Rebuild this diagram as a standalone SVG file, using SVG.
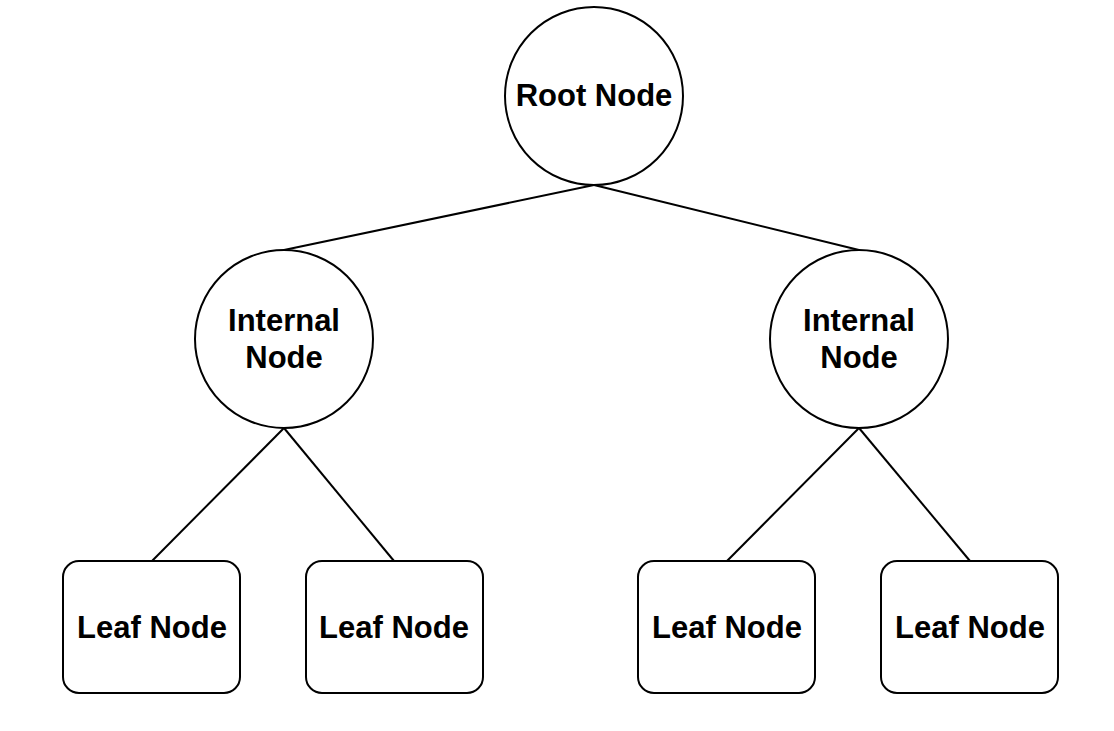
<svg xmlns="http://www.w3.org/2000/svg" width="1114" height="731" viewBox="0 0 1114 731">
<style>
.n{fill:#fff;stroke:#000;stroke-width:2}
.t{font-family:"Liberation Sans",Arial,sans-serif;font-weight:bold;font-size:31px;fill:#000;text-anchor:middle}
.c{stroke:#000;stroke-width:2;fill:none}
</style>
<rect width="1114" height="731" fill="#fff"/>
<g id="connectors">
<line class="c" x1="594" y1="185" x2="284" y2="250"/>
<line class="c" x1="594" y1="185" x2="859" y2="250"/>
<line class="c" x1="284" y1="428" x2="152" y2="561"/>
<line class="c" x1="284" y1="428" x2="394" y2="561"/>
<line class="c" x1="859" y1="428" x2="727" y2="561"/>
<line class="c" x1="859" y1="428" x2="970" y2="561"/>
</g>
<g id="root">
<circle class="n" cx="594" cy="96" r="89"/>
<text class="t" x="594" y="106">Root Node</text>
</g>
<g id="internal-left">
<circle class="n" cx="284" cy="339" r="89"/>
<text class="t" x="284" y="331">Internal</text>
<text class="t" x="284" y="368">Node</text>
</g>
<g id="internal-right">
<circle class="n" cx="859" cy="339" r="89"/>
<text class="t" x="859" y="331">Internal</text>
<text class="t" x="859" y="368">Node</text>
</g>
<g id="leaf-1">
<rect class="n" x="63" y="561" width="177" height="132" rx="16"/>
<text class="t" x="152" y="638">Leaf Node</text>
</g>
<g id="leaf-2">
<rect class="n" x="306" y="561" width="177" height="132" rx="16"/>
<text class="t" x="394" y="638">Leaf Node</text>
</g>
<g id="leaf-3">
<rect class="n" x="638" y="561" width="177" height="132" rx="16"/>
<text class="t" x="727" y="638">Leaf Node</text>
</g>
<g id="leaf-4">
<rect class="n" x="881" y="561" width="177" height="132" rx="16"/>
<text class="t" x="970" y="638">Leaf Node</text>
</g>
</svg>
